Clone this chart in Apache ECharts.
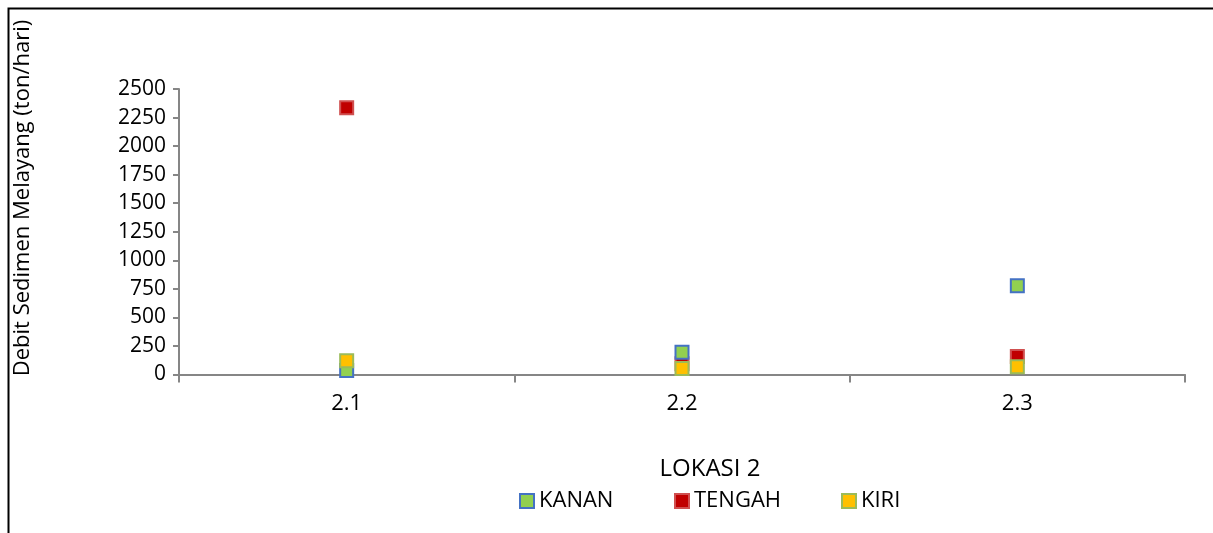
<!DOCTYPE html>
<html>
<head>
<meta charset="utf-8">
<script src="https://cdn.jsdelivr.net/npm/echarts@6/dist/echarts.min.js"></script>
<style>
  html, body { margin: 0; padding: 0; background: #fff; }
  #chart { width: 1213px; height: 533px; }
</style>
</head>
<body>
<div id="chart"></div>
<script>
// Suspended sediment discharge at location 2, per sampling point
const categories = ['2.1', '2.2', '2.3'];
const kanan = [35, 194, 778];
const tengah = [2335, 95, 157];
const kiri = [120, 52, 67];
const yTicks = { min: 0, max: 2500, interval: 250 };
const yTitle = 'Debit Sedimen Melayang (ton/hari)';

const FONT = '"Open Sans", "Liberation Sans", sans-serif';

const chart = echarts.init(document.getElementById('chart'));

function legendAt(name, left) {
  return {
    data: [name], left: left, top: 485, orient: 'horizontal',
    itemWidth: 14, itemHeight: 14, itemGap: 0,
    icon: 'rect',
    textStyle: { fontFamily: FONT, fontSize: 22, color: '#000' },
    selectedMode: false
  };
}

function seriesOf(name, values, fill, border, z) {
  return {
    name: name, type: 'scatter', data: values, z: z,
    symbol: 'rect', symbolSize: 13,
    itemStyle: { color: fill, borderColor: border, borderWidth: 2, opacity: 1 },
    emphasis: { disabled: true }
  };
}

chart.setOption({
  animation: false,
  backgroundColor: '#fff',
  textStyle: { fontFamily: FONT },
  grid: { left: 179, right: 28, top: 89, bottom: 158.5 },
  title: {
    text: 'LOKASI 2', left: 705, top: 452, textAlign: 'center',
    textStyle: { fontFamily: FONT, fontSize: 24, fontWeight: 'normal', color: '#000' }
  },
  legend: [legendAt('KANAN', 514), legendAt('TENGAH', 669), legendAt('KIRI', 836)],
  xAxis: {
    type: 'category', data: categories, boundaryGap: true,
    axisLine: { lineStyle: { color: '#868686', width: 2 } },
    axisTick: { show: true, alignWithLabel: false, length: 8, lineStyle: { color: '#868686', width: 2 } },
    axisLabel: { fontFamily: FONT, fontSize: 22, color: '#000', margin: 18 },
    splitLine: { show: false }
  },
  yAxis: {
    type: 'value', min: yTicks.min, max: yTicks.max, interval: yTicks.interval,
    axisLine: { show: true, lineStyle: { color: '#868686', width: 2 } },
    axisTick: { show: true, length: 6, lineStyle: { color: '#868686', width: 2 } },
    axisLabel: { fontFamily: FONT, fontSize: 21, color: '#000', margin: 13, formatter: v => String(v) },
    splitLine: { show: false }
  },
  series: [
    seriesOf('KANAN', kanan, '#92D050', '#4472C4', 3),
    seriesOf('TENGAH', tengah, '#C00000', '#D05050', 2),
    seriesOf('KIRI', kiri, '#FFC000', '#9BBB59', 4)
  ],
  graphic: [{
    type: 'text', x: 23, y: 198, rotation: Math.PI / 2, silent: true,
    style: {
      text: yTitle, fontFamily: FONT, fontSize: 22, fill: '#000',
      align: 'center', verticalAlign: 'middle'
    }
  }, {
    type: 'rect', left: 6, top: 6, z: 10, silent: true,
    shape: { width: 1220, height: 540 },
    style: { fill: 'none', stroke: '#000', lineWidth: 2 }
  }]
});
</script>
</body>
</html>
